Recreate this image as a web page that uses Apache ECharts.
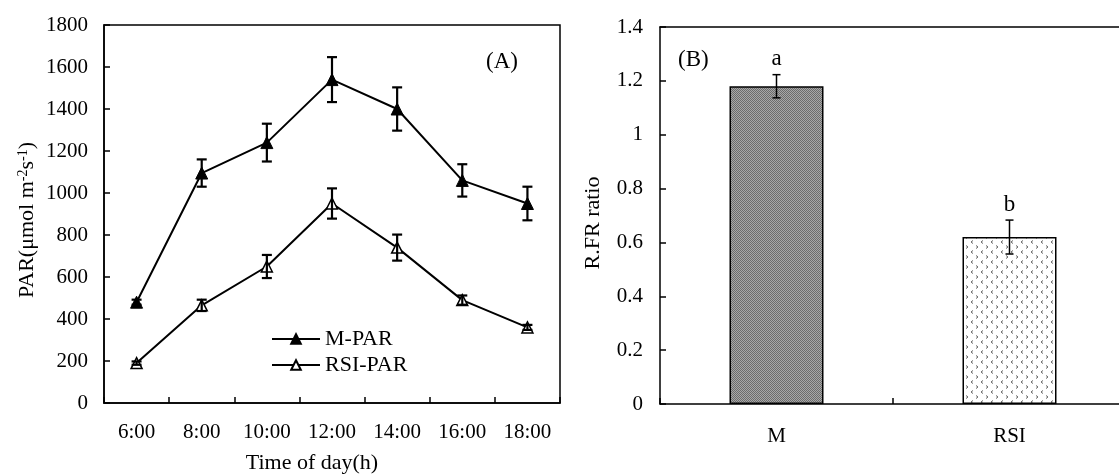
<!DOCTYPE html>
<html>
<head>
<meta charset="utf-8">
<script src="https://cdn.jsdelivr.net/npm/echarts@6/dist/echarts.min.js"></script>
<style>
    html, body { margin: 0; padding: 0; background: #fff; }
    #main { width: 1119px; height: 475px; }
</style>
</head>
<body>
<div id="main"></div>
<script>
// (A) 日变化 PAR
var times = ['6:00', '8:00', '10:00', '12:00', '14:00', '16:00', '18:00'];
var mPar = [480, 1095, 1240, 1540, 1400, 1060, 950];
var mParErr = [12, 65, 90, 107, 103, 77, 80];
var rsiPar = [190, 465, 650, 950, 740, 490, 360];
var rsiParErr = [8, 27, 55, 72, 62, 22, 12];

// (B) R:FR
var treatments = ['M', 'RSI'];
var rfrRatio = [1.18, 0.62];
var rfrErr = [0.043, 0.063];
var sigLetters = ['a', 'b'];

var FONT = 'Liberation Serif';

// 填充图案
function makeMPattern() {
    var c = document.createElement('canvas');
    c.width = 2; c.height = 2;
    var ctx = c.getContext('2d');
    ctx.fillStyle = '#a8a8a8';
    ctx.fillRect(0, 0, 2, 2);
    ctx.fillStyle = '#6c6c6c';
    ctx.fillRect(0, 0, 1, 1);
    ctx.fillRect(1, 1, 1, 1);
    return c;
}
function makeRsiPattern() {
    var c = document.createElement('canvas');
    c.width = 10; c.height = 10;
    var ctx = c.getContext('2d');
    ctx.fillStyle = '#fff';
    ctx.fillRect(0, 0, 10, 10);
    ctx.strokeStyle = '#666';
    ctx.lineWidth = 1;
    ctx.beginPath();
    ctx.moveTo(3, 0.5); ctx.lineTo(1, 2); ctx.lineTo(3, 3.5);
    ctx.moveTo(6, 5.5); ctx.lineTo(8, 7); ctx.lineTo(6, 8.5);
    ctx.stroke();
    return c;
}

function errData(vals, errs) {
    return vals.map(function (v, i) {
        return [i, v - errs[i], v + errs[i]];
    });
}

function errRender(capHalf, lw, letters) {
    return function (params, api) {
        var i = api.value(0);
        var lo = api.coord([i, api.value(1)]);
        var hi = api.coord([i, api.value(2)]);
        var st = { stroke: '#000', lineWidth: lw };
        var children = [
            { type: 'line', shape: { x1: hi[0], y1: hi[1], x2: lo[0], y2: lo[1] }, style: st },
            { type: 'line', shape: { x1: hi[0] - capHalf, y1: hi[1], x2: hi[0] + capHalf, y2: hi[1] }, style: st },
            { type: 'line', shape: { x1: lo[0] - capHalf, y1: lo[1], x2: lo[0] + capHalf, y2: lo[1] }, style: st }
        ];
        if (letters) {
            children.push({
                type: 'text',
                x: hi[0], y: hi[1] - 4,
                style: {
                    text: letters[params.dataIndex],
                    fontFamily: FONT, fontSize: 23, fill: '#000',
                    align: 'center', verticalAlign: 'bottom'
                }
            });
        }
        return { type: 'group', children: children };
    };
}

var axisText = { color: '#000', fontFamily: FONT, fontSize: 21 };
var axisLine = { lineStyle: { color: '#000', width: 1.5 } };
var innerTick = { show: true, inside: true, length: 6, interval: 0, lineStyle: { color: '#000', width: 1.5 } };
var nameText = { color: '#000', fontFamily: FONT, fontSize: 22 };

var myChart = echarts.init(document.getElementById('main'));

var option = {
    backgroundColor: '#fff',
    animation: false,
    textStyle: { fontFamily: FONT },
    grid: [
        { left: 104, top: 25, width: 456, height: 378, show: true, borderColor: '#000', borderWidth: 1.5, outerBoundsMode: 'none' },
        { left: 660, top: 27, width: 466, height: 377, show: false, outerBoundsMode: 'none' }
    ],
    legend: {
        data: ['M-PAR', 'RSI-PAR'],
        orient: 'vertical',
        left: 266,
        top: 323,
        itemWidth: 48,
        itemHeight: 12,
        itemGap: 4,
        textStyle: { color: '#000', fontFamily: FONT, fontSize: 22 }
    },
    xAxis: [
        {
            gridIndex: 0,
            type: 'category',
            data: times,
            axisLine: axisLine,
            axisTick: innerTick,
            axisLabel: Object.assign({ margin: 19, interval: 0 }, axisText),
            name: 'Time of day(h)',
            nameLocation: 'middle',
            nameGap: 49,
            nameTextStyle: Object.assign({ padding: [0, 40, 0, 0] }, nameText)
        },
        {
            gridIndex: 1,
            type: 'category',
            data: treatments,
            axisLine: axisLine,
            axisTick: innerTick,
            axisLabel: Object.assign({ margin: 22, interval: 0 }, axisText)
        },
        {
            // 上边框
            gridIndex: 1,
            type: 'category',
            position: 'top',
            data: treatments,
            axisLine: axisLine,
            axisTick: { show: false },
            axisLabel: { show: false }
        }
    ],
    yAxis: [
        {
            gridIndex: 0,
            type: 'value',
            min: 0, max: 1800, interval: 200,
            axisLine: Object.assign({ show: true }, axisLine),
            axisTick: innerTick,
            axisLabel: Object.assign({ margin: 16, formatter: function (v) { return String(v); } }, axisText),
            splitLine: { show: false },
            name: 'PAR(μmol m{sup|-2}s{sup|-1})',
            nameLocation: 'middle',
            nameGap: 66,
            nameTextStyle: Object.assign({
                padding: [0, 12, 0, 0],
                rich: {
                    sup: { fontFamily: FONT, fontSize: 14, color: '#000', verticalAlign: 'top', lineHeight: 22 }
                }
            }, nameText)
        },
        {
            gridIndex: 1,
            type: 'value',
            min: 0, max: 1.4, interval: 0.2,
            axisLine: Object.assign({ show: true }, axisLine),
            axisTick: innerTick,
            axisLabel: Object.assign({ margin: 17 }, axisText),
            splitLine: { show: false },
            name: 'R.FR ratio',
            nameLocation: 'middle',
            nameGap: 56,
            nameTextStyle: Object.assign({ padding: [0, 15, 0, 0] }, nameText)
        }
    ],
    graphic: [
        { type: 'text', left: 486, top: 50, style: { text: '(A)', fontFamily: FONT, fontSize: 23, fill: '#000' } },
        { type: 'text', left: 678, top: 48, style: { text: '(B)', fontFamily: FONT, fontSize: 23, fill: '#000' } }
    ],
    series: [
        {
            name: 'M-PAR',
            type: 'line',
            xAxisIndex: 0, yAxisIndex: 0,
            data: mPar,
            symbol: 'triangle',
            symbolSize: 12,
            lineStyle: { color: '#000', width: 2 },
            itemStyle: { color: '#000', borderColor: '#000', borderWidth: 1 },
            z: 3
        },
        {
            name: 'RSI-PAR',
            type: 'line',
            xAxisIndex: 0, yAxisIndex: 0,
            data: rsiPar,
            symbol: 'triangle',
            symbolSize: 11,
            lineStyle: { color: '#000', width: 2 },
            itemStyle: { color: '#fff', borderColor: '#000', borderWidth: 1.5 },
            z: 3
        },
        {
            type: 'custom',
            xAxisIndex: 0, yAxisIndex: 0,
            data: errData(mPar, mParErr),
            renderItem: errRender(5, 2.2),
            z: 5
        },
        {
            type: 'custom',
            xAxisIndex: 0, yAxisIndex: 0,
            data: errData(rsiPar, rsiParErr),
            renderItem: errRender(5, 2.2),
            z: 5
        },
        {
            type: 'bar',
            xAxisIndex: 1, yAxisIndex: 1,
            barWidth: 94,
            data: [
                { value: rfrRatio[0], itemStyle: { color: { image: makeMPattern(), repeat: 'repeat' } } },
                { value: rfrRatio[1], itemStyle: { color: { image: makeRsiPattern(), repeat: 'repeat' } } }
            ],
            itemStyle: { borderColor: '#000', borderWidth: 1.5 },
            z: 2
        },
        {
            type: 'custom',
            xAxisIndex: 1, yAxisIndex: 1,
            data: errData(rfrRatio, rfrErr),
            renderItem: errRender(4, 1.5, sigLetters),
            z: 5
        }
    ]
};
myChart.setOption(option);
window.addEventListener('resize', function () {
    myChart.resize();
});
</script>
</body>
</html>
